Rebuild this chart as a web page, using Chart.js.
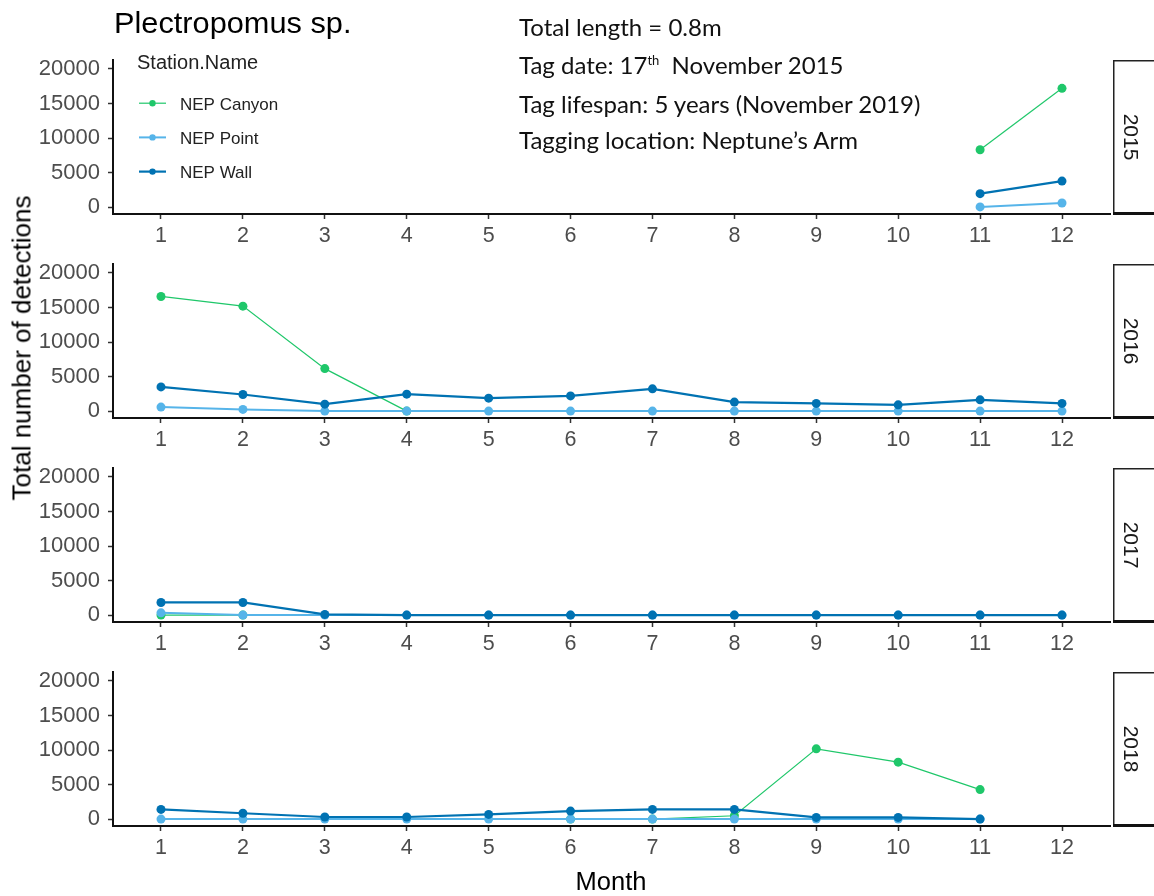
<!DOCTYPE html>
<html>
<head>
<meta charset="utf-8">
<script src="https://cdn.jsdelivr.net/npm/chart.js@4.4.0/dist/chart.umd.min.js"></script>
<style>
  html, body { margin: 0; padding: 0; background: #fff; }
  #wrap { position: relative; width: 1154px; height: 896px; overflow: hidden; background: #fff; }
  .panel { position: absolute; left: 0; }
  .txt { position: absolute; white-space: nowrap; margin: 0; color: #000; }
  .sans { font-family: "Liberation Sans", Arial, sans-serif; line-height: 1.117; }
  .note { font-family: Lato, "Open Sans", sans-serif; font-size: 24px; line-height: 1.2; left: 519px; color: #111; }
  .note sup { font-size: 13px; vertical-align: 9px; line-height: 0; }
</style>
</head>
<body>
<div id="wrap">
  <canvas id="p0" class="panel" width="1154" height="260" style="top:0px"></canvas>
  <canvas id="p1" class="panel" width="1154" height="260" style="top:204px"></canvas>
  <canvas id="p2" class="panel" width="1154" height="260" style="top:408px"></canvas>
  <canvas id="p3" class="panel" width="1154" height="260" style="top:612px"></canvas>

  <div class="txt sans" style="left:114px; top:7px; font-size:29px; transform-origin:0 0; transform:scaleX(1.06);">Plectropomus sp.</div>

  <div class="txt note" style="top:13px;">Total length = 0.8m</div>
  <div class="txt note" style="top:51.3px;">Tag date: 17<sup>th</sup>&nbsp; November 2015</div>
  <div class="txt note" style="top:89.6px;">Tag lifespan: 5 years (November 2019)</div>
  <div class="txt note" style="top:125.8px;">Tagging location: Neptune’s Arm</div>

  <div class="txt sans" style="left:611px; top:867px; font-size:25.5px; transform:translateX(-50%);">Month</div>
  <div class="txt sans" style="left:22px; top:348px; font-size:26px; transform:translate(-50%,-50%) rotate(-90deg);">Total number of detections</div>
</div>

<script>
// Detections per month for each station, one array per year (null = no detections recorded)
const months = [1, 2, 3, 4, 5, 6, 7, 8, 9, 10, 11, 12];
const years = ['2015', '2016', '2017', '2018'];
const stations = ['NEP Canyon', 'NEP Point', 'NEP Wall'];
const yTickValues = [0, 5000, 10000, 15000, 20000];

const canyon2015 = [null, null, null, null, null, null, null, null, null, null, 8300, 17200];
const point2015  = [null, null, null, null, null, null, null, null, null, null, 30, 600];
const wall2015   = [null, null, null, null, null, null, null, null, null, null, 1950, 3770];

const canyon2016 = [16600, 15200, 6150, 0, null, null, null, null, null, null, null, null];
const point2016  = [580, 240, 0, 0, 0, 0, 0, 0, 0, 0, 0, 0];
const wall2016   = [3500, 2400, 1000, 2450, 1870, 2200, 3220, 1300, 1110, 910, 1630, 1110];

const canyon2017 = [0, 0, null, null, null, null, null, null, null, null, null, null];
const point2017  = [330, 0, 0, 0, 0, 0, 0, 0, 0, 0, 0, 0];
const wall2017   = [1830, 1830, 100, 0, 0, 0, 0, 0, 0, 0, 0, 0];

const canyon2018 = [null, null, null, null, null, 0, 0, 480, 10170, 8240, 4270, null];
const point2018  = [0, 0, 0, 0, 0, 0, 0, 0, 0, 0, 0, null];
const wall2018   = [1400, 850, 300, 300, 680, 1160, 1400, 1400, 240, 240, 0, null];

const seriesByYear = [
  [canyon2015, point2015, wall2015],
  [canyon2016, point2016, wall2016],
  [canyon2017, point2017, wall2017],
  [canyon2018, point2018, wall2018]
];

const stationColors = ['#1fc76a', '#56b4e9', '#0072b2'];
const lineWidths = [1.2, 2, 2.2];

Chart.defaults.font.family = '"Liberation Sans", Arial, sans-serif';

// Facet strip on the right of each panel with the year written top-to-bottom
const stripPlugin = {
  id: 'yearStrip',
  afterDraw(chart, args, opts) {
    const { ctx, chartArea: a } = chart;
    const x0 = a.right + 3;
    ctx.save();
    ctx.fillStyle = '#fff';
    ctx.fillRect(x0, a.top, chart.width - x0, a.bottom - a.top);
    ctx.strokeStyle = '#222';
    ctx.lineWidth = 1.5;
    ctx.strokeRect(x0 + 0.75, a.top + 0.75, chart.width - x0 + 10, a.bottom - a.top - 1.5);
    ctx.fillStyle = '#111';
    ctx.fillRect(x0, a.bottom - 2, chart.width - x0, 3);
    ctx.translate(x0 + 17, (a.top + a.bottom) / 2);
    ctx.rotate(Math.PI / 2);
    ctx.fillStyle = '#1a1a1a';
    ctx.font = '21px "Liberation Sans", Arial, sans-serif';
    ctx.textAlign = 'center';
    ctx.textBaseline = 'middle';
    ctx.fillText(opts.label, 0, 0);
    ctx.restore();
  }
};

// Station legend drawn inside the top panel from the datasets themselves
const stationLegend = {
  id: 'stationLegend',
  afterDraw(chart) {
    const { ctx } = chart;
    ctx.save();
    ctx.fillStyle = '#222';
    ctx.font = '20px "Liberation Sans", Arial, sans-serif';
    ctx.textBaseline = 'alphabetic';
    ctx.fillText('Station.Name', 137, 69);
    ctx.font = '17px "Liberation Sans", Arial, sans-serif';
    chart.data.datasets.forEach((ds, i) => {
      const base = 109.5 + i * 34.2;
      const cy = base - 6.3;
      ctx.strokeStyle = ds.borderColor;
      ctx.lineWidth = ds.borderWidth;
      ctx.beginPath();
      ctx.moveTo(139, cy);
      ctx.lineTo(166, cy);
      ctx.stroke();
      ctx.fillStyle = ds.borderColor;
      ctx.beginPath();
      ctx.arc(152.5, cy, 3.2, 0, Math.PI * 2);
      ctx.fill();
      ctx.fillStyle = '#222';
      ctx.fillText(ds.label, 180, base);
    });
    ctx.restore();
  }
};

function makePanel(idx) {
  const values = seriesByYear[idx];
  const plugins = [stripPlugin];
  if (idx === 0) plugins.push(stationLegend);
  return new Chart(document.getElementById('p' + idx), {
    type: 'line',
    data: {
      datasets: stations.map((name, s) => ({
        label: name,
        data: months.map((m, i) => ({ x: m, y: values[s][i] })),
        borderColor: stationColors[s],
        backgroundColor: stationColors[s],
        borderWidth: lineWidths[s],
        pointRadius: 4.5,
        pointHoverRadius: 4.5,
        pointBorderWidth: 0,
        tension: 0,
        spanGaps: false,
        order: stations.length - s
      }))
    },
    options: {
      responsive: false,
      animation: false,
      events: [],
      layout: { padding: { top: 60, right: 44, bottom: 9, left: 0 } },
      plugins: {
        legend: { display: false },
        tooltip: { enabled: false },
        yearStrip: { label: years[idx] }
      },
      scales: {
        x: {
          type: 'linear',
          min: 0.414,
          max: 12.586,
          afterBuildTicks: (scale) => { scale.ticks = months.map(v => ({ value: v })); },
          afterFit: (scale) => { scale.height = 37; },
          ticks: { color: '#4d4d4d', font: { size: 21.5 }, padding: 4, maxRotation: 0, autoSkip: false, callback: (v) => String(v) },
          grid: { display: true, drawOnChartArea: false, drawTicks: true, tickLength: 5, tickColor: '#333', tickWidth: 1.5 },
          border: { display: true, color: '#111', width: 2 }
        },
        y: {
          type: 'linear',
          min: -1000,
          max: 21300,
          afterBuildTicks: (scale) => { scale.ticks = yTickValues.map(v => ({ value: v })); },
          afterFit: (scale) => { scale.width = 113; },
          ticks: { color: '#4d4d4d', font: { size: 22 }, padding: 8, callback: (v) => String(v) },
          grid: { display: true, drawOnChartArea: false, drawTicks: true, tickLength: 5, tickColor: '#333', tickWidth: 1.5 },
          border: { display: true, color: '#111', width: 2 }
        }
      }
    },
    plugins: plugins
  });
}

years.forEach((y, i) => makePanel(i));
</script>
</body>
</html>
